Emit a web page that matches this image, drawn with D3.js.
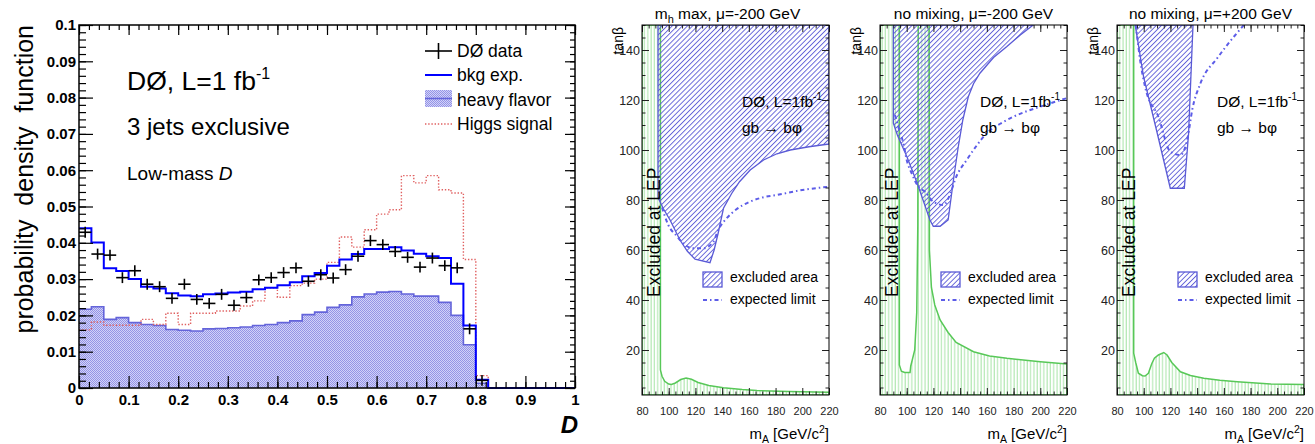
<!DOCTYPE html>
<html>
<head>
<meta charset="utf-8">
<script src="https://cdn.jsdelivr.net/npm/d3@7"></script>
<style>
  body { margin: 0; background: #fff; }
  text { font-family: "Liberation Sans", Arial, Helvetica, sans-serif; }
</style>
</head>
<body>
<svg id="chart" width="1315" height="444"></svg>
<script>
// ---- left panel: D distribution, 40 bins of 0.025 ----
const binWidth = 0.025;
const bkgExp = [0.0440, 0.0401, 0.0330, 0.0322, 0.0300, 0.0279, 0.0274, 0.0261, 0.0255, 0.0253,
  0.0258, 0.0260, 0.0263, 0.0265, 0.0272, 0.0276, 0.0283, 0.0291, 0.0308, 0.0317,
  0.0337, 0.0354, 0.0369, 0.0383, 0.0383, 0.0388, 0.0379, 0.0370, 0.0363, 0.0358,
  0.0287, 0.0172, 0.0023, 0, 0, 0, 0, 0, 0, 0];
const heavyFlavor = [0.0217, 0.0224, 0.0189, 0.0194, 0.0180, 0.0175, 0.0172, 0.0161, 0.0159, 0.0157,
  0.0163, 0.0164, 0.0166, 0.0168, 0.0172, 0.0175, 0.0180, 0.0185, 0.0202, 0.0209,
  0.0222, 0.0229, 0.0251, 0.0259, 0.0264, 0.0266, 0.0259, 0.0253, 0.0253, 0.0236,
  0.0200, 0.0119, 0.0013, 0, 0, 0, 0, 0, 0, 0];
const higgsSignal = [0.0160, 0.0182, 0.0173, 0.0173, 0.0173, 0.0189, 0.0175, 0.0206, 0.0175, 0.0206,
  0.0206, 0.0212, 0.0212, 0.0226, 0.0240, 0.0276, 0.0250, 0.0282, 0.0289, 0.0300,
  0.0346, 0.0416, 0.0388, 0.0436, 0.0479, 0.0491, 0.0585, 0.0565, 0.0585, 0.0546,
  0.0537, 0.0354, 0.0034, 0, 0, 0, 0, 0, 0, 0];
const dzData = [0.0429, 0.0369, 0.0366, 0.0304, 0.0323, 0.0286, 0.0279, 0.0247, 0.0286, 0.0244,
  0.0233, 0.0258, 0.0228, 0.0249, 0.0298, 0.0304, 0.0318, 0.0331, 0.0294, 0.0312,
  0.0303, 0.0326, 0.0363, 0.0406, 0.0395, 0.0376, 0.0360, 0.0333, 0.0358, 0.0337,
  0.0331, 0.0163, 0.0021];
const dzErr = 0.0015;
const dTicks = [0, 0.1, 0.2, 0.3, 0.4, 0.5, 0.6, 0.7, 0.8, 0.9, 1];
const pdfTicks = [0, 0.01, 0.02, 0.03, 0.04, 0.05, 0.06, 0.07, 0.08, 0.09, 0.1];

// ---- right panels: tan(beta) vs m_A limits ----
const panelTitles = ["max, \u03bc=-200 GeV", "no mixing, \u03bc=-200 GeV", "no mixing, \u03bc=+200 GeV"];
const mAticks = [80, 100, 120, 140, 160, 180, 200, 220];
const tanbTicks = [20, 40, 60, 80, 100, 120, 140];

const lepMhmax = [[80,150],[93.8,150],[93.8,12],[95,9.5],[97,7.5],[100,6.4],[102,6.2],[105,6.8],[109,8.2],
  [113,8.8],[117,8.3],[122,7.0],[130,5.8],[141,4.9],[155,4.2],[166,3.8],[190,3.4],[220,3.1],[220,2],[80,2]];
const lepNoMixNeg = [[80,150],[94.5,150],[94.5,14],[96,11.5],[98.5,11],[102.5,11],[103,13.5],[106,20],
  [107.5,35],[108.3,70],[108.6,150],[116.8,150],[117,60],[118.5,45],[121,38],[125,32],[131,27],[137,23],
  [150,19.3],[162,17.6],[175,16.7],[200,15.3],[220,14.4],[220,2],[80,2]];
const lepNoMixPos = [[80,150],[92.5,150],[92.5,18.7],[94,15],[96,10.7],[99,9.7],[101,9.6],[103.5,10.7],
  [106,14.5],[108,16.7],[111,18],[115,19],[117.5,18],[121,15],[127.5,11.3],[135,9.8],[145,8.7],
  [157,7.9],[170,7.3],[195,6.4],[220,6.2],[220,2],[80,2]];

const exclMhmax = [[92,150],[92,81],[96,76.5],[101,72],[108.4,64],[114,59.5],[119.7,56.3],[130.9,54.9],
  [134,60],[137,66.7],[141,76.7],[147,82.5],[153,87.3],[161,92],[171,96],[181,98.5],[191,100],
  [205,101.3],[220,102.4],[220,150]];
const exclNoMixNeg = [[90,150],[90,110.7],[93,106],[100,97.5],[108,86.5],[117.4,72],[119.9,69.5],
  [125,69.5],[131,72],[133,80],[135.5,90],[138.6,101.3],[142,112],[146.1,121.3],[150,126.5],
  [154.8,130.7],[165,137],[174.8,141.3],[185,146],[194.7,150]];
const exclNoMixPos = [[93.6,150],[99.9,129.3],[110,107],[119.9,84.7],[130.4,84.7],[133.6,106.7],[136.9,150]];

const expMhmax = [[95,77],[99.7,70],[106,65.6],[112.2,62],[118.4,60.7],[125.9,60.7],[133.4,63.3],
  [137.1,68],[143.4,72.7],[150,76],[160.8,79.3],[170,81],[180.8,82],[200,84],[220,85.3]];
const expNoMixNeg = [[91.2,114],[93.7,109.3],[97.5,102.7],[100,96],[103.7,90.7],[108.7,85.3],[113.7,83.3],
  [119.9,79.3],[127.4,78],[133.6,84],[136.1,88],[144.9,96],[152,101.5],[159.8,106.7],[170,110.5],
  [179.8,113.3],[199.8,117.3],[219.7,120.7]];
const expNoMixPos = [[94,150],[94.8,146.7],[97.3,136],[101,125.3],[111,113.3],[120,99.3],[127.5,98],
  [133,105.3],[136.3,116],[142.5,126.7],[155,136.7],[167.5,145.3],[175,150]];

const lepRegions = [lepMhmax, lepNoMixNeg, lepNoMixPos];
const exclRegions = [exclMhmax, exclNoMixNeg, exclNoMixPos];
const expLimits = [expMhmax, expNoMixNeg, expNoMixPos];

const svg = d3.select("#chart");
svg.append("rect").attr("width", 1315).attr("height", 444).attr("fill", "#fff");
const defs = svg.append("defs");

// fine checker fill used by ROOT for heavy flavor
const hfPat = defs.append("pattern").attr("id", "hfPat")
  .attr("width", 2).attr("height", 2).attr("patternUnits", "userSpaceOnUse");
hfPat.append("rect").attr("width", 2).attr("height", 2).attr("fill", "#d2d2f8");
hfPat.append("rect").attr("width", 1).attr("height", 1).attr("fill", "#9494e6");
hfPat.append("rect").attr("x", 1).attr("y", 1).attr("width", 1).attr("height", 1).attr("fill", "#9494e6");

const bluePat = defs.append("pattern").attr("id", "blueHatch")
  .attr("width", 3.6).attr("height", 3.6).attr("patternUnits", "userSpaceOnUse")
  .attr("patternTransform", "rotate(45)");
bluePat.append("line").attr("x1", 0.5).attr("y1", 0).attr("x2", 0.5).attr("y2", 3.6)
  .attr("stroke", "#5a5ad6").attr("stroke-width", 0.9);

const greenPat = defs.append("pattern").attr("id", "greenHatch")
  .attr("width", 3.3).attr("height", 10).attr("patternUnits", "userSpaceOnUse");
greenPat.append("line").attr("x1", 1).attr("y1", 0).attr("x2", 1).attr("y2", 10)
  .attr("stroke", "#a6e4a6").attr("stroke-width", 1);

function tickAxes(g, x, y, o) {
  const mk = (axis, tr) => {
    const a = g.append("g").attr("transform", tr).call(axis);
    a.select(".domain").remove();
    a.selectAll("line").attr("stroke", o.tickColor || "#000").attr("stroke-width", o.tickWidth || 1);
    return a;
  };
  const [x0, x1] = x.range();
  const [y0, y1] = y.range();
  // bottom
  const b = mk(d3.axisBottom(x).tickValues(o.xMajor).tickSize(-o.bMaj).tickPadding(o.xPad).tickFormat(o.xFmt), `translate(0,${y0})`);
  b.selectAll("text").attr("font-size", o.xFont).attr("font-weight", o.weight).attr("fill", o.labelColor);
  mk(d3.axisBottom(x).tickValues(o.xMinor).tickSize(-o.bMaj / 2).tickFormat(""), `translate(0,${y0})`);
  mk(d3.axisTop(x).tickValues(o.xMajor).tickSize(-o.tMaj).tickFormat(""), `translate(0,${y1})`);
  mk(d3.axisTop(x).tickValues(o.xMinor).tickSize(-o.tMaj / 2).tickFormat(""), `translate(0,${y1})`);
  // left
  const l = mk(d3.axisLeft(y).tickValues(o.yMajor).tickSize(-o.lMaj).tickPadding(o.yPad).tickFormat(o.yFmt), `translate(${x0},0)`);
  l.selectAll("text").attr("font-size", o.yFont).attr("font-weight", o.weight).attr("fill", o.labelColor);
  mk(d3.axisLeft(y).tickValues(o.yMinor).tickSize(-o.lMaj / 2).tickFormat(""), `translate(${x0},0)`);
  mk(d3.axisRight(y).tickValues(o.yMajor).tickSize(-o.rMaj).tickFormat(""), `translate(${x1},0)`);
  mk(d3.axisRight(y).tickValues(o.yMinor).tickSize(-o.rMaj / 2).tickFormat(""), `translate(${x1},0)`);
  g.append("rect").attr("x", x0).attr("y", y1).attr("width", x1 - x0).attr("height", y0 - y1)
    .attr("fill", "none").attr("stroke", "#000").attr("stroke-width", o.frameWidth || 1);
}

// ================= left panel =================
const hx = d3.scaleLinear().domain([0, 1]).range([79, 575]);
const hy = d3.scaleLinear().domain([0, 0.1]).range([388, 25]);
const left = svg.append("g");

const stepPts = vals => vals.map((v, i) => [i * binWidth, v]).concat([[vals.length * binWidth, vals[vals.length - 1]]]);

left.append("path")
  .datum(stepPts(heavyFlavor))
  .attr("fill", "url(#hfPat)")
  .attr("d", d3.area().curve(d3.curveStepAfter).x(d => hx(d[0])).y0(hy(0)).y1(d => hy(d[1])));
left.append("path")
  .datum(stepPts(heavyFlavor))
  .attr("fill", "none").attr("stroke", "#6464da").attr("stroke-width", 1.6)
  .attr("d", d3.line().curve(d3.curveStepAfter).x(d => hx(d[0])).y(d => hy(d[1])));
left.append("path")
  .datum(stepPts(higgsSignal))
  .attr("fill", "none").attr("stroke", "#e06060").attr("stroke-width", 1.4)
  .attr("stroke-dasharray", "1.4,1.8")
  .attr("d", d3.line().curve(d3.curveStepAfter).x(d => hx(d[0])).y(d => hy(d[1])));
left.append("path")
  .datum(stepPts(bkgExp))
  .attr("fill", "none").attr("stroke", "#0000ff").attr("stroke-width", 2)
  .attr("d", d3.line().curve(d3.curveStepAfter).x(d => hx(d[0])).y(d => hy(d[1])));

const pts = left.append("g").attr("stroke", "#000").attr("stroke-width", 1.6);
dzData.forEach((v, i) => {
  const c = (i + 0.5) * binWidth;
  pts.append("line").attr("x1", hx(c - binWidth / 2)).attr("x2", hx(c + binWidth / 2))
    .attr("y1", hy(v)).attr("y2", hy(v));
  pts.append("line").attr("x1", hx(c)).attr("x2", hx(c))
    .attr("y1", hy(Math.max(0, v - dzErr))).attr("y2", hy(v + dzErr));
});

tickAxes(left, hx, hy, {
  xMajor: dTicks, xMinor: d3.range(0, 1.0001, 0.02), yMajor: pdfTicks, yMinor: d3.range(0, 0.1001, 0.002),
  bMaj: 12, tMaj: 10, lMaj: 14, rMaj: 10, xPad: 6, yPad: 3, xFont: 15, yFont: 15, weight: "bold",
  labelColor: "#000", xFmt: d => String(+d.toFixed(2)), yFmt: d => String(+d.toFixed(3)), frameWidth: 1.5, tickWidth: 1.2
});

left.append("text").attr("transform", "translate(33,25) rotate(-90)")
  .attr("text-anchor", "end").attr("font-size", 25).style("white-space", "pre")
  .text("probability  density  function");
left.append("text").attr("x", 578).attr("y", 433).attr("text-anchor", "end")
  .attr("font-size", 24).attr("font-style", "italic").attr("font-weight", "bold").text("D");

const lumi = left.append("text").attr("x", 127).attr("y", 90).attr("font-size", 26.5);
lumi.append("tspan").text("D\u00d8, L=1 fb");
lumi.append("tspan").attr("dy", -11).attr("font-size", 16).text("-1");
left.append("text").attr("x", 127).attr("y", 135).attr("font-size", 24).text("3 jets exclusive");
const lm = left.append("text").attr("x", 127).attr("y", 180).attr("font-size", 19);
lm.append("tspan").text("Low-mass ");
lm.append("tspan").attr("font-style", "italic").text("D");

// legend
const lg = left.append("g");
lg.append("line").attr("x1", 425).attr("x2", 452).attr("y1", 51).attr("y2", 51).attr("stroke", "#000").attr("stroke-width", 1.6);
lg.append("line").attr("x1", 438.5).attr("x2", 438.5).attr("y1", 43).attr("y2", 59).attr("stroke", "#000").attr("stroke-width", 1.6);
lg.append("line").attr("x1", 425).attr("x2", 452).attr("y1", 75).attr("y2", 75).attr("stroke", "#0000ff").attr("stroke-width", 2);
lg.append("rect").attr("x", 425).attr("y", 90).attr("width", 27).attr("height", 17).attr("fill", "url(#hfPat)");
lg.append("line").attr("x1", 425).attr("x2", 452).attr("y1", 98.5).attr("y2", 98.5).attr("stroke", "#6464da").attr("stroke-width", 1.6);
lg.append("line").attr("x1", 425).attr("x2", 452).attr("y1", 124).attr("y2", 124).attr("stroke", "#e06060")
  .attr("stroke-width", 1.4).attr("stroke-dasharray", "1.4,1.8");
["D\u00d8 data", "bkg exp.", "heavy flavor", "Higgs signal"].forEach((t, i) => {
  lg.append("text").attr("x", 457).attr("y", 57 + i * 24.3).attr("font-size", 17.5).text(t);
});

// ================= right panels =================
const panelLefts = [642, 880, 1117];
const panelW = 187;

panelLefts.forEach((L, p) => {
  const x = d3.scaleLinear().domain([80, 220]).range([L, L + panelW]);
  const y = d3.scaleLinear().domain([2, 150]).range([395, 25]);
  const g = svg.append("g");
  const clipId = "clip" + p;
  defs.append("clipPath").attr("id", clipId).append("rect")
    .attr("x", L).attr("y", 25).attr("width", panelW).attr("height", 370);
  const inner = g.append("g").attr("clip-path", `url(#${clipId})`);
  const poly = d3.line().x(d => x(d[0])).y(d => y(d[1]));

  inner.append("path").datum(lepRegions[p]).attr("fill", "url(#greenHatch)")
    .attr("stroke", "#58c858").attr("stroke-width", 1.5).attr("d", d => poly(d) + "Z");
  inner.append("path").datum(exclRegions[p]).attr("fill", "url(#blueHatch)")
    .attr("stroke", "#5a5ad6").attr("stroke-width", 1.3).attr("d", d => poly(d) + "Z");
  inner.append("path").datum(expLimits[p]).attr("fill", "none")
    .attr("stroke", "#5c5ce8").attr("stroke-width", 2).attr("stroke-dasharray", "4,3,1.5,3")
    .attr("d", d3.line().curve(d3.curveMonotoneX).x(d => x(d[0])).y(d => y(d[1])));

  tickAxes(g, x, y, {
    xMajor: mAticks, xMinor: d3.range(80, 221, 5), yMajor: tanbTicks, yMinor: d3.range(5, 151, 5),
    bMaj: 7, tMaj: 7, lMaj: 7, rMaj: 7, xPad: 12, yPad: 2, xFont: 11, yFont: 12.5, weight: "normal",
    labelColor: "#222", xFmt: d3.format("d"), yFmt: d3.format("d"), tickColor: "#222"
  });

  // title
  const t = g.append("text").attr("x", L + panelW / 2 - (p === 0 ? 8 : 0)).attr("y", 19)
    .attr("text-anchor", "middle").attr("font-size", 15.5);
  if (p === 0) {
    t.append("tspan").text("m");
    t.append("tspan").attr("font-size", 11).attr("dy", 4).text("h");
    t.append("tspan").attr("dy", -4).text(" " + panelTitles[p]);
  } else {
    t.text(panelTitles[p]);
  }
  g.append("text").attr("transform", `translate(${L - 19},27) rotate(-90)`)
    .attr("text-anchor", "end").attr("font-size", 14).text("tan\u03b2");
  const xl = g.append("text").attr("x", L + panelW).attr("y", 439).attr("text-anchor", "end").attr("font-size", 15);
  xl.append("tspan").text("m");
  xl.append("tspan").attr("font-size", 10.5).attr("dy", 4).text("A");
  xl.append("tspan").attr("dy", -4).text(" [GeV/c");
  xl.append("tspan").attr("font-size", 10.5).attr("dy", -6).text("2");
  xl.append("tspan").attr("dy", 6).text("]");

  g.append("text").attr("transform", `translate(${L + 17.5},297) rotate(-90)`)
    .attr("font-size", 17.5).text("Excluded at LEP");

  const d0 = g.append("text").attr("x", L + 100).attr("y", 107).attr("font-size", 15.5);
  d0.append("tspan").text("D\u00d8, L=1fb");
  d0.append("tspan").attr("font-size", 10).attr("dy", -7).text("-1");
  g.append("text").attr("x", L + 100).attr("y", 133).attr("font-size", 15.5).text("gb \u2192 b\u03c6");

  // legend
  g.append("rect").attr("x", L + 61).attr("y", 272).attr("width", 19).attr("height", 15)
    .attr("fill", "url(#blueHatch)").attr("stroke", "#5a5ad6").attr("stroke-width", 1.3);
  g.append("line").attr("x1", L + 61).attr("x2", L + 80).attr("y1", 300).attr("y2", 300)
    .attr("stroke", "#5c5ce8").attr("stroke-width", 2).attr("stroke-dasharray", "4,3,1.5,3");
  g.append("text").attr("x", L + 88).attr("y", 282).attr("font-size", 14).text("excluded area");
  g.append("text").attr("x", L + 88).attr("y", 304).attr("font-size", 14).text("expected limit");
});
</script>
</body>
</html>
